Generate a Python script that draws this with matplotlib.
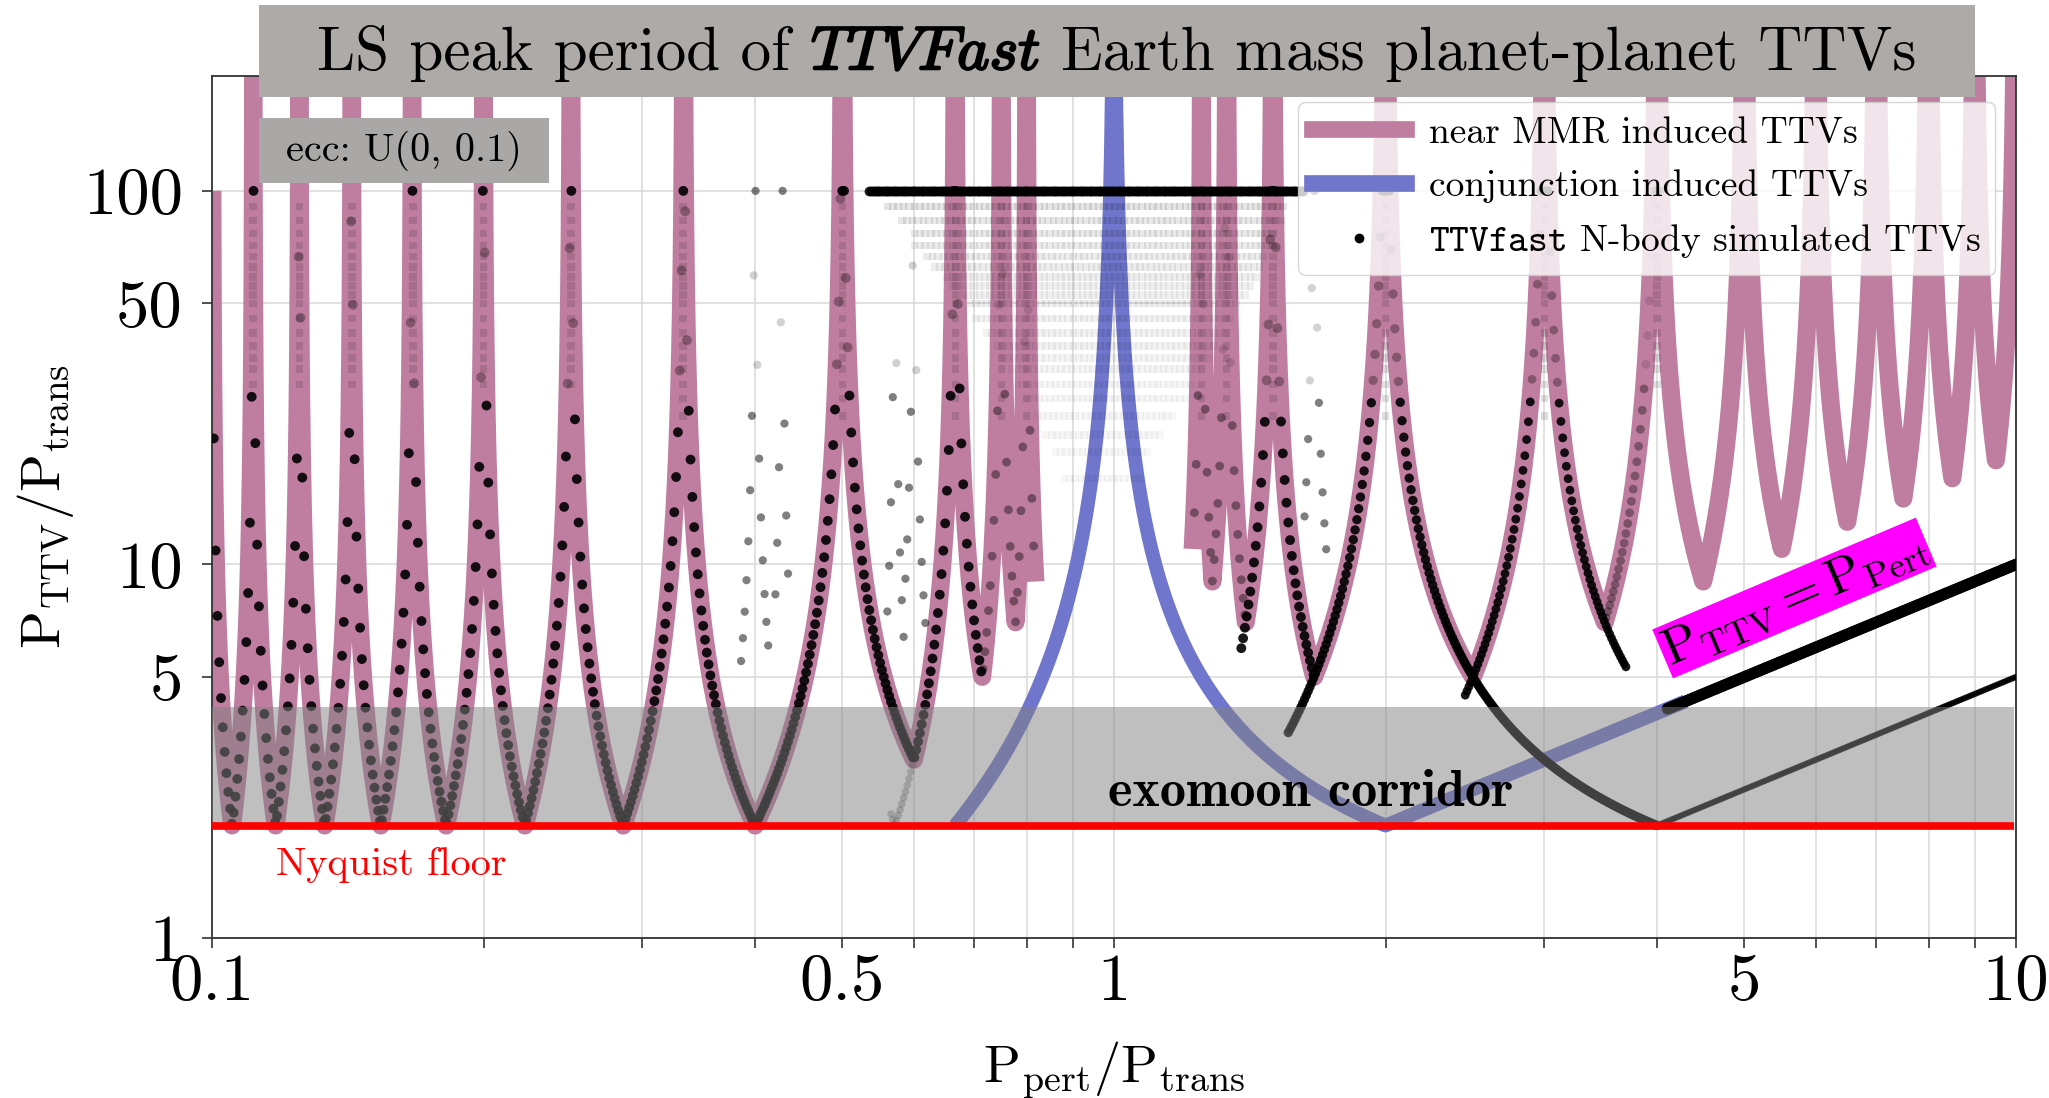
import numpy as np
import matplotlib
matplotlib.use("Agg")
import matplotlib.pyplot as plt
import matplotlib.patheffects as pe
from matplotlib.lines import Line2D
from matplotlib.patches import Rectangle
from matplotlib.offsetbox import TextArea, HPacker, AnchoredOffsetbox
from matplotlib.ticker import NullLocator, NullFormatter

plt.rcParams["mathtext.fontset"] = "cm"
plt.rcParams["axes.unicode_minus"] = False

W, H = 2049, 1098

# ---------------------------------------------------------------- data
# near-MMR TTV terms: frequency |A/x - B| (x = P_pert/P_trans), drawn on [lo, hi]
mmr_left_A = [1, 1, 1, 1, 1, 1, 1, 1, 1, 2, 3, 4]
mmr_left_B = [10, 9, 8, 7, 6, 5, 4, 3, 2, 3, 4, 5]
mmr_left_lo = [0.1001, 0.10526, 0.11765, 0.13333, 0.15385, 0.18182,
               0.22222, 0.28571, 0.4, 0.6, 0.71429, 0.77778]
mmr_left_hi = [0.10526, 0.11765, 0.13333, 0.15385, 0.18182, 0.22222,
               0.28571, 0.4, 0.6, 0.71429, 0.77778, 0.81818]

mmr_right_A = [5, 4, 3, 2, 3, 4, 5, 6, 7, 8, 9, 10]
mmr_right_B = [4, 3, 2, 1, 1, 1, 1, 1, 1, 1, 1, 1]
mmr_right_lo = [1.22222, 1.28571, 1.4, 1.66667, 2.5, 3.5, 4.5, 5.5, 6.5, 7.5, 8.5, 9.5]
mmr_right_hi = [1.28571, 1.4, 1.66667, 2.5, 3.5, 4.5, 5.5, 6.5, 7.5, 8.5, 9.5, 10.0]

# conjunction (synodic) term
conj_A, conj_B = 1, 1
conj_lo, conj_hi = 0.66667, 4.3

# TTVfast runs: perturber period grid, and the term each stretch of runs follows
sim_x_min, sim_x_max, sim_n = 0.1, 10.0, 1000
sim_period_cap = 100.0
sim_A = [1, 1, 1, 1, 1, 1, 1, 1, 1, 2, 2, 3, 4, 2, 3, 4, 3,
         5, 4, 3, 5, 2, 2, 3, 4, 1]
sim_B = [10, 9, 8, 7, 6, 5, 4, 3, 2, 3, 3, 4, 5, 5, 7, 7, 5,
         4, 3, 2, 3, 1, 1, 1, 1, 1]
sim_lo = [0.1001, 0.10526, 0.11765, 0.13333, 0.15385, 0.18182, 0.22222, 0.28571,
          0.4, 0.6, 0.565, 0.71429, 0.77778, 0.385, 0.42, 0.56, 0.585,
          1.22222, 1.28571, 1.38, 1.62, 1.56, 4.0, 2.45, 3.5, 4.1]
sim_hi = [0.10526, 0.11765, 0.13333, 0.15385, 0.18182, 0.22222, 0.28571, 0.4,
          0.6, 0.71429, 0.6, 0.77778, 0.81818, 0.415, 0.437, 0.585, 0.62,
          1.28571, 1.4, 1.66667, 1.72, 4.0, 10.0, 3.7, 4.05, 10.0]
sim_alpha = [0.9, 0.9, 0.9, 0.9, 0.9, 0.9, 0.9, 0.9, 0.9, 0.9, 0.25, 0.4, 0.4,
             0.5, 0.5, 0.5, 0.5, 0.4, 0.4, 0.9, 0.5, 0.9, 0.75, 0.9, 0.35, 0.95]
sim_size = [50, 50, 50, 50, 50, 50, 50, 50, 50, 50, 30, 40, 40, 35, 35, 35, 35,
            40, 40, 50, 35, 45, 20, 40, 40, 70]

# runs whose periodogram peak sits at the baseline limit
flat_lo, flat_hi = 0.535, 1.62

# scattered runs: periodogram rows (P) and the x-range they fill
cloud_P = [90.9, 83.3, 76.9, 71.4, 66.7, 62.5, 58.8, 55.6, 52.6, 50.0, 45.5,
           41.7, 38.5, 35.7, 33.3, 30.3, 27.8, 25.0, 22.2, 20.0, 17.0]
cloud_lo = [0.56, 0.58, 0.60, 0.60, 0.62, 0.63, 0.65, 0.66, 0.68, 0.69, 0.70,
            0.72, 0.74, 0.75, 0.77, 0.78, 0.80, 0.82, 0.84, 0.86, 0.88]
cloud_hi = [1.55, 1.55, 1.50, 1.50, 1.48, 1.45, 1.45, 1.42, 1.40, 1.38, 1.35,
            1.33, 1.30, 1.28, 1.25, 1.22, 1.20, 1.17, 1.14, 1.10, 1.07]
cloud_alpha = [0.10, 0.09, 0.085, 0.08, 0.075, 0.07, 0.065, 0.06, 0.06, 0.06, 0.055,
               0.05, 0.05, 0.045, 0.045, 0.04, 0.04, 0.035, 0.035, 0.03, 0.03]

# faint columns of runs stacked on the resonance peaks
peak_x = [0.111, 0.125, 0.143, 0.167, 0.2, 0.25, 0.333, 0.5, 0.667, 0.75, 0.8,
          1.25, 1.333, 1.5, 2.0, 3.0, 4.0]
peak_Pmin = [30, 30, 30, 30, 30, 30, 25, 25, 25, 25, 25, 25, 25, 25, 25, 25, 30]

corridor_lo, corridor_hi = 2.0, 4.15
nyquist = 2.0
band_x = [0.1, 9.95]

xtick_major = [0.1, 0.5, 1, 5, 10]
xtick_labels = ["0.1", "0.5", "1", "5", "10"]
xtick_minor = [0.2, 0.3, 0.4, 0.6, 0.7, 0.8, 0.9, 2, 3, 4, 6, 7, 8, 9]
ytick_major = [1, 5, 10, 50, 100]
ytick_labels = ["1", "5", "10", "50", "100"]

PINK = "#bf7ea0"
BLUE = "#6f76cc"


def ttv_period(A, B, x):
    f = np.abs(A / x - B)
    f = np.abs(f - np.round(f))          # aliasing by the transit sampling
    return 1.0 / np.maximum(f, 1e-6)


def term_curve(As, Bs, los, his, n=500):
    xs, ps = [], []
    for A, B, lo, hi in zip(As, Bs, los, his):
        x = np.geomspace(lo, hi, n)
        xr = A / B
        if lo < xr < hi:
            x = np.sort(np.append(x, xr))
        xs.append(x)
        ps.append(ttv_period(A, B, x))
    return np.concatenate(xs), np.concatenate(ps)


# ---------------------------------------------------------------- figure
fig = plt.figure(figsize=(W / 100, H / 100), dpi=100)
fig.patch.set_facecolor("white")
ax = fig.add_axes([212 / W, 1 - 938 / H, 1804 / W, 862 / H])
ax.set_xscale("log")
ax.set_yscale("log")
ax.set_xlim(0.1, 10)
ax.set_ylim(1, 203)

# theory curves
for As, Bs, los, his in [(mmr_left_A, mmr_left_B, mmr_left_lo, mmr_left_hi),
                         (mmr_right_A, mmr_right_B, mmr_right_lo, mmr_right_hi)]:
    cx, cp = term_curve(As, Bs, los, his)
    ax.plot(cx, cp, color=PINK, lw=13, solid_capstyle="butt",
            solid_joinstyle="round", zorder=2)

bx, bp = term_curve([conj_A], [conj_B], [conj_lo], [conj_hi], n=1500)
ax.plot(bx, bp, color=BLUE, lw=10, solid_capstyle="butt", zorder=2.5)

# simulated runs
grid = np.geomspace(sim_x_min, sim_x_max, sim_n)

cloud_x, cloud_y, cloud_a = [], [], []
for P, lo, hi, a in zip(cloud_P, cloud_lo, cloud_hi, cloud_alpha):
    sel = grid[(grid >= lo) & (grid <= hi)][::3]
    cloud_x.append(sel)
    cloud_y.append(np.full(sel.size, P))
    cloud_a.append(np.full(sel.size, a))
for xp, pmin in zip(peak_x, peak_Pmin):
    rows = np.array([p for p in cloud_P if p >= pmin])
    cloud_x.append(np.full(rows.size, xp))
    cloud_y.append(rows)
    cloud_a.append(np.full(rows.size, 0.12))
cloud_x = np.concatenate(cloud_x)
cloud_y = np.concatenate(cloud_y)
cc = np.zeros((cloud_x.size, 4))
cc[:, 3] = np.concatenate(cloud_a)
ax.scatter(cloud_x, cloud_y, s=30, c=cc, marker="s", linewidths=0, zorder=3)

flat = grid[(grid >= flat_lo) & (grid <= flat_hi)]
ax.scatter(flat, np.full(flat.size, sim_period_cap), s=50, color="black",
           alpha=0.85, linewidths=0, zorder=3)

for A, B, lo, hi, a, s in zip(sim_A, sim_B, sim_lo, sim_hi, sim_alpha, sim_size):
    x = grid[(grid >= lo) & (grid <= hi)]
    p = np.minimum(ttv_period(A, B, x), sim_period_cap)
    alpha = np.where((p >= 30) & (p < sim_period_cap), a * 0.35, a)
    col = np.zeros((x.size, 4))
    col[:, 3] = alpha
    ax.scatter(x, p, s=s, c=col, marker="o", linewidths=0, zorder=3)

# exomoon corridor and Nyquist floor
ax.fill_between(band_x, corridor_lo, corridor_hi, color="0.5", alpha=0.5,
                lw=0, zorder=4)
ax.plot(band_x, [nyquist, nyquist], color="red", lw=5.5,
        solid_capstyle="butt", zorder=5)

ax.text(1.654, 2.44, "exomoon corridor", family="cmb10", fontsize=37.5,
        ha="center", va="center", zorder=6)
ax.text(0.158, 1.57, "Nyquist floor", family="cmr10", fontsize=29,
        color="red", ha="center", va="center", zorder=6)
ax.text(5.68, 8.13, r"$\mathrm{P_{TTV} = P_{Pert}}$", fontsize=37,
        rotation=23, rotation_mode="anchor", ha="center", va="center",
        bbox=dict(facecolor="#ff00ff", edgecolor="none", pad=1), zorder=6)

# axes styling
ax.set_xticks(xtick_major, labels=xtick_labels)
ax.set_xticks(xtick_minor, minor=True)
ax.xaxis.set_minor_formatter(NullFormatter())
ax.set_yticks(ytick_major, labels=ytick_labels)
ax.yaxis.set_minor_locator(NullLocator())
ax.tick_params(which="both", direction="out", length=7, width=1.2,
               color="#333333", labelsize=48, labelfontfamily="cmr10")
ax.tick_params(axis="x", which="major", pad=4)
ax.tick_params(axis="y", which="major", pad=14)
ax.grid(True, which="major", axis="both", color="#dcdcdc", lw=1.2)
ax.grid(True, which="minor", axis="x", color="#dcdcdc", lw=1.2)
ax.set_axisbelow(True)
for sp in ax.spines.values():
    sp.set_linewidth(1.3)
    sp.set_color("#333333")

ax.set_xlabel(r"$\mathrm{P_{pert}/P_{trans}}$", fontsize=39)
ax.set_ylabel(r"$\mathrm{P_{TTV}/P_{trans}}$", fontsize=40)
ax.xaxis.set_label_coords(0.5, -0.118)
ax.yaxis.set_label_coords(-0.0754, 0.5)

handles = [Line2D([], [], color=PINK, lw=12),
           Line2D([], [], color=BLUE, lw=12),
           Line2D([], [], ls="none", marker="o", color="black", ms=6)]
labels = ["near MMR induced TTVs", "conjunction induced TTVs",
          r"$\mathtt{TTVfast}$ N-body simulated TTVs"]
leg = ax.legend(handles, labels, loc="upper right",
                bbox_to_anchor=(0.9884, 0.9698), borderaxespad=0,
                prop=dict(family="cmr10", size=27), handlelength=2.5,
                handletextpad=0.6, labelspacing=0.52, borderpad=0.38,
                framealpha=0.8, edgecolor="#cccccc", fancybox=True)
leg.set_zorder(7)

# title banner
fig.add_artist(Rectangle((259 / W, 1 - 97 / H), (1975 - 259) / W, 92 / H,
                         transform=fig.transFigure, facecolor="#aeaaa8",
                         edgecolor="none", zorder=8))
t1 = TextArea("LS peak period of", textprops=dict(family="cmr10", size=44))
t2 = TextArea(r"$\mathit{TTVFast}$", textprops=dict(
    size=44, path_effects=[pe.withStroke(linewidth=1.7, foreground="black")]))
t3 = TextArea("Earth mass planet-planet TTVs", textprops=dict(family="cmr10", size=44))
pack = HPacker(children=[t1, t2, t3], align="baseline", pad=0, sep=15)
banner = AnchoredOffsetbox(loc="center", child=pack, pad=0, borderpad=0,
                           frameon=False, bbox_to_anchor=(1117 / W, 1 - 53 / H),
                           bbox_transform=fig.transFigure)
banner.set_zorder(9)
fig.add_artist(banner)

# eccentricity tag
fig.add_artist(Rectangle((259 / W, 1 - 183 / H), 290 / W, 65 / H,
                         transform=fig.transFigure, facecolor="#aaa8a6",
                         edgecolor="none", zorder=8))
fig.text(404 / W, 1 - 151 / H, "ecc: U(0, 0.1)", family="cmr10", fontsize=29,
         ha="center", va="center", zorder=9)

fig.savefig("out.png", dpi=100, facecolor="white")
